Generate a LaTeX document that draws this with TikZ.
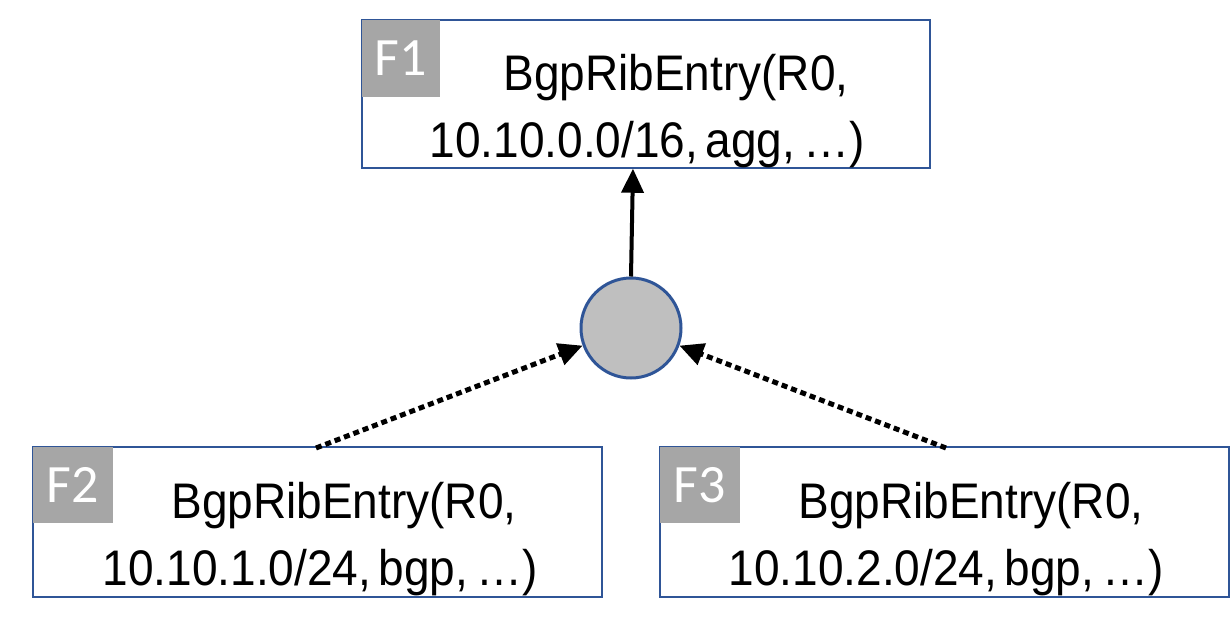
\documentclass[tikz,border=0pt]{standalone}
\usepackage{fontspec}
\setmainfont{Liberation Sans}[WordSpace=0.6,FakeStretch=0.92]
\newfontfamily\tagfont{Carlito}
\usetikzlibrary{arrows.meta}
\definecolor{bx}{HTML}{2F5597}
\definecolor{lab}{HTML}{A6A6A6}
\definecolor{circ}{HTML}{BFBFBF}
\tikzset{x=1pt,y=-1pt,
 entry/.style={draw=bx,line width=1.5pt,inner sep=0pt},
 tag/.style={fill=lab,text=white,inner sep=0pt,font=\tagfont\fontsize{54}{54}\selectfont},
 txt/.style={inner sep=0pt,anchor=base,font=\fontsize{50}{56}\selectfont},
 conn/.style={line width=4pt,-{Triangle[length=24pt,width=22pt]}},
 dots/.style={conn,line width=5pt,dash pattern=on 6pt off 4pt}}
\begin{document}
\begin{tikzpicture}
\useasboundingbox (0,0) rectangle (1232,627);
\node[entry,minimum width=568,minimum height=148] (b1) at (646,94) {};
\node[entry,minimum width=569,minimum height=150] (b2) at (317.5,522) {};
\node[entry,minimum width=569,minimum height=150] (b3) at (944.5,522) {};
\node[tag,minimum width=78,minimum height=77] (t1) at (401,58.5) {F1};
\node[tag,minimum width=80,minimum height=76] (t2) at (73,485) {F2};
\node[tag,minimum width=80,minimum height=76] (t3) at (700,485) {F3};
\node[txt] (l11) at (676,90) {BgpRibEntry(R0,};
\node[txt] (l12) at (647,157) {10.10.0.0/16, agg, …)};
\node[txt] (l21) at (344,518) {BgpRibEntry(R0,};
\node[txt] (l22) at (320,585) {10.10.1.0/24, bgp, …)};
\node[txt] (l31) at (971,518) {BgpRibEntry(R0,};
\node[txt] (l32) at (946,585) {10.10.2.0/24, bgp, …)};
\node[circle,draw=bx,fill=circ,line width=3pt,minimum size=100,inner sep=0pt] (c) at (631,328) {};
\coordinate (a2) at (316,448);
\coordinate (a3) at (946,448);
\draw[conn] (c.north) -- (b1.south -| 633,0) ;
\draw[dots] (a2) -- (c.200);
\draw[dots] (a3) -- (c.-20);
\end{tikzpicture}
\end{document}
